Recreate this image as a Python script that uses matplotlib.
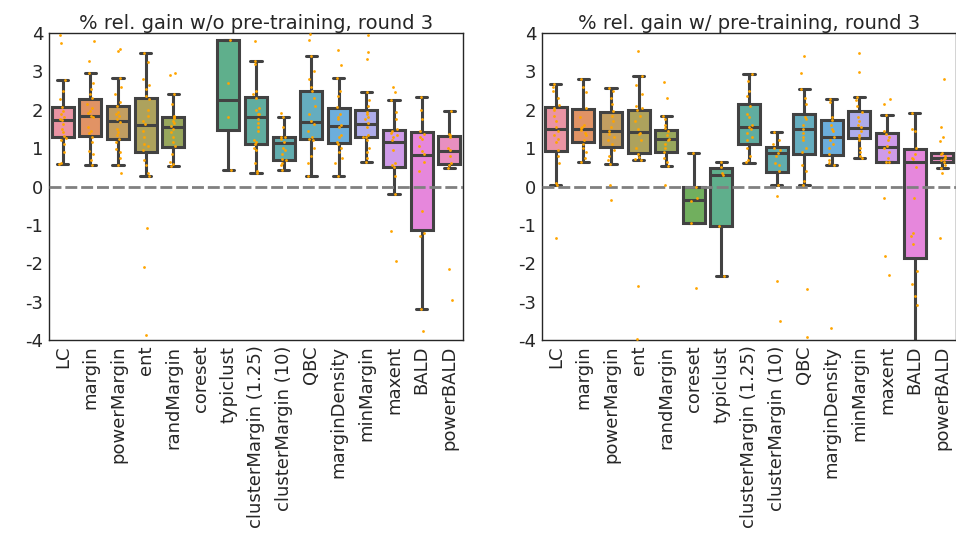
import numpy as np
import matplotlib
matplotlib.use("Agg")
import matplotlib.pyplot as plt
import seaborn as sns

categories = ["LC", "margin", "powerMargin", "ent", "randMargin", "coreset", "typiclust",
              "clusterMargin (1.25)", "clusterMargin (10)", "QBC", "marginDensity",
              "minMargin", "maxent", "BALD", "powerBALD"]
yticks = [-4, -3, -2, -1, 0, 1, 2, 3, 4]
titles = ["% rel. gain w/o pre-training, round 3", "% rel. gain w/ pre-training, round 3"]

# ---- left panel: box statistics (None = no data) ----
left_q1 = [1.29, 1.32, 1.23, 0.91, 1.03, None, 1.47, 1.10, 0.69, 1.25, 1.14, 1.28, 0.50, -1.13, 0.58]
left_med = [1.74, 1.83, 1.71, 1.61, 1.55, None, 2.26, 1.80, 1.13, 1.68, 1.58, 1.62, 1.17, 0.83, 0.93]
left_q3 = [2.07, 2.27, 2.09, 2.31, 1.80, None, 3.81, 2.34, 1.29, 2.50, 2.04, 1.99, 1.48, 1.41, 1.32]
left_wlo = [0.58, 0.56, 0.56, 0.28, 0.54, None, 0.43, 0.36, 0.42, 0.27, 0.28, 0.63, -0.20, -3.19, 0.49]
left_whi = [2.77, 2.96, 2.84, 3.48, 2.42, None, 3.81, 3.26, 1.80, 3.39, 2.82, 2.45, 2.25, 2.32, 1.98]
left_points = [
    [3.94, 3.74, 2.77, 2.5, 2.28, 2.07, 1.97, 1.9, 1.82, 1.76, 1.72, 1.62, 1.5, 1.42, 1.32, 1.27, 1.2, 1.1, 0.9, 0.62, 0.58],
    [3.79, 3.26, 2.96, 2.7, 2.55, 2.4, 2.3, 2.15, 2.05, 1.98, 1.92, 1.85, 1.8, 1.55, 1.45, 1.4, 1.3, 1.15, 0.92, 0.85, 0.7, 0.56],
    [3.58, 3.53, 2.84, 2.6, 2.4, 2.2, 2.1, 1.95, 1.9, 1.85, 1.75, 1.68, 1.5, 1.42, 1.35, 1.25, 1.15, 0.98, 0.9, 0.75, 0.56, 0.35],
    [3.48, 3.25, 2.8, 2.65, 2.55, 2.35, 2.28, 2.0, 1.85, 1.7, 1.62, 1.45, 1.3, 1.1, 1.05, 0.95, 0.7, 0.55, 0.35, 0.28, -1.07, -2.09, -3.86],
    [2.95, 2.90, 2.42, 2.15, 1.85, 1.8, 1.78, 1.7, 1.65, 1.58, 1.5, 1.42, 1.3, 1.15, 1.05, 0.85, 0.65, 0.58, 0.54],
    [],
    [3.81, 2.71, 1.81, 0.43],
    [3.78, 3.26, 3.2, 2.5, 2.4, 2.3, 2.05, 2.0, 1.9, 1.88, 1.75, 1.65, 1.55, 1.45, 1.2, 1.15, 1.1, 1.0, 0.95, 0.6, 0.4, 0.36],
    [1.92, 1.80, 1.55, 1.3, 1.28, 1.25, 1.15, 1.0, 0.95, 0.85, 0.72, 0.68, 0.6, 0.55, 0.42],
    [3.97, 3.81, 3.39, 3.0, 2.8, 2.6, 2.5, 2.3, 2.1, 1.9, 1.7, 1.62, 1.45, 1.3, 1.25, 1.2, 1.0, 0.8, 0.6, 0.27],
    [3.55, 3.17, 2.82, 2.5, 2.35, 2.08, 1.9, 1.8, 1.75, 1.6, 1.55, 1.35, 1.3, 1.15, 1.12, 1.0, 0.9, 0.75, 0.6, 0.28],
    [3.95, 3.51, 3.32, 2.45, 2.25, 2.1, 1.95, 1.9, 1.8, 1.75, 1.65, 1.55, 1.35, 1.3, 1.28, 1.2, 1.0, 0.9, 0.75, 0.63],
    [2.58, 2.46, 2.25, 1.95, 1.75, 1.5, 1.45, 1.4, 1.35, 1.3, 1.2, 0.95, 0.6, 0.55, 0.5, 0.28, -0.2, -1.15, -1.94],
    [2.32, 2.0, 1.75, 1.45, 1.38, 1.3, 1.25, 1.05, 0.92, 0.85, 0.65, 0.41, -0.65, -1.2, -1.28, -3.19, -3.76],
    [1.98, 1.38, 1.35, 1.3, 1.0, 0.95, 0.8, 0.6, 0.55, 0.49, -2.14, -2.96],
]

# ---- right panel ----
right_q1 = [0.93, 1.16, 1.04, 0.86, 0.89, -0.95, -1.02, 1.12, 0.39, 0.85, 0.82, 1.26, 0.63, -1.87, 0.64]
right_med = [1.50, 1.50, 1.44, 1.41, 1.24, -0.36, 0.30, 1.54, 0.86, 1.49, 1.28, 1.52, 1.02, 0.64, 0.73]
right_q3 = [2.08, 2.01, 1.95, 1.99, 1.48, -0.01, 0.47, 2.14, 1.03, 1.90, 1.73, 1.97, 1.39, 0.98, 0.87]
right_wlo = [0.05, 0.63, 0.59, 0.70, 0.53, -0.95, -2.34, 0.61, 0.05, 0.05, 0.56, 0.74, 0.63, -4.6, 0.47]
right_whi = [2.68, 2.79, 2.56, 2.89, 1.83, 0.88, 0.63, 2.94, 1.42, 2.53, 2.28, 2.32, 1.86, 1.91, 0.87]
right_points = [
    [2.68, 2.6, 2.5, 2.3, 2.12, 2.05, 2.0, 1.85, 1.7, 1.55, 1.45, 1.35, 1.25, 1.15, 0.95, 0.8, 0.6, 0.08, 0.05, -1.35],
    [2.79, 2.6, 2.45, 2.05, 1.8, 1.6, 1.55, 1.52, 1.48, 1.4, 1.35, 1.2, 1.1, 1.0, 0.9, 0.75, 0.63],
    [2.56, 2.5, 2.3, 2.15, 1.98, 1.85, 1.7, 1.55, 1.45, 1.38, 1.3, 1.2, 1.1, 0.95, 0.8, 0.7, 0.59, 0.05, -0.35],
    [3.52, 2.89, 2.65, 2.4, 2.1, 2.05, 2.0, 1.85, 1.7, 1.5, 1.4, 1.38, 1.2, 1.0, 0.85, 0.78, 0.72, 0.70, -2.60, -3.98],
    [2.73, 2.31, 1.83, 1.75, 1.6, 1.52, 1.45, 1.35, 1.25, 1.2, 1.1, 1.0, 0.9, 0.75, 0.65, 0.53, 0.05],
    [0.88, -0.01, -0.30, -0.39, -0.95, -2.64],
    [0.63, 0.5, 0.35, 0.30, -1.02, -2.34],
    [2.94, 2.75, 2.5, 2.35, 2.1, 1.9, 1.8, 1.6, 1.55, 1.5, 1.4, 1.3, 1.2, 1.0, 0.8, 0.7, 0.63],
    [1.42, 1.2, 1.1, 1.0, 0.95, 0.88, 0.8, 0.6, 0.55, 0.4, 0.05, -0.25, -2.46, -3.50],
    [3.40, 2.97, 2.53, 2.3, 2.15, 1.8, 1.75, 1.6, 1.5, 1.4, 1.3, 1.2, 1.0, 0.9, 0.55, 0.4, 0.15, 0.05, -2.67, -3.91],
    [2.28, 2.2, 1.8, 1.72, 1.6, 1.5, 1.45, 1.3, 1.2, 1.1, 1.0, 0.85, 0.7, 0.6, 0.56, -3.68],
    [3.48, 2.99, 2.32, 2.25, 2.1, 1.95, 1.8, 1.7, 1.6, 1.55, 1.45, 1.35, 1.3, 1.2, 1.0, 0.9, 0.8, 0.74],
    [2.28, 2.16, 1.86, 1.45, 1.38, 1.3, 1.2, 1.05, 1.0, 0.9, 0.75, 0.65, 0.63, -0.30, -1.81, -2.30],
    [1.91, 1.5, 1.45, 1.0, 0.85, 0.75, 0.72, 0.5, -0.3, -1.2, -1.3, -1.5, -2.19, -2.53, -2.86, -3.10],
    [2.80, 1.55, 1.28, 1.18, 0.87, 0.85, 0.8, 0.75, 0.72, 0.68, 0.64, 0.55, 0.47, 0.35, -1.35],
]

sns.set_style("white")
plt.rcParams["font.family"] = ["DejaVu Sans"]
plt.rcParams["text.color"] = "#262626"


def lighten(c, a=0.85):
    return tuple(a * v + (1 - a) for v in c)


palette = [lighten(sns.desaturate(c, 0.75)) for c in sns.color_palette("husl", len(categories))]
line_col = "#424242"

fig = plt.figure(figsize=(9.56, 5.48), dpi=100)
ax_l = fig.add_axes([49 / 956, 1 - 340 / 548, 414 / 956, 307 / 548])
ax_r = fig.add_axes([542 / 956, 1 - 340 / 548, 414 / 956, 307 / 548])

rng = np.random.default_rng(3)


def draw(ax, q1, med, q3, wlo, whi, pts, title):
    stats, pos, cols = [], [], []
    for i in range(len(categories)):
        if q1[i] is None:
            continue
        stats.append(dict(q1=q1[i], med=med[i], q3=q3[i], whislo=wlo[i], whishi=whi[i], fliers=[]))
        pos.append(i)
        cols.append(palette[i])
    bp = ax.bxp(stats, positions=pos, widths=0.8, patch_artist=True, showfliers=False,
                boxprops=dict(linewidth=2.2, edgecolor=line_col),
                whiskerprops=dict(linewidth=2.2, color=line_col),
                capprops=dict(linewidth=2.2, color=line_col),
                medianprops=dict(linewidth=2.2, color=line_col),
                capwidths=0.4, zorder=2)
    for patch, c in zip(bp["boxes"], cols):
        patch.set_facecolor(c)
    for i, p in enumerate(pts):
        if not p:
            continue
        xs = i + rng.uniform(-0.12, 0.12, len(p))
        ax.scatter(xs, p, s=4, color="orange", linewidths=0, zorder=4)
    ax.axhline(0, color="gray", linestyle=(0, (4.3, 1.4)), linewidth=2, zorder=3)
    ax.set_xlim(-0.5, len(categories) - 0.5)
    ax.set_ylim(-4, 4)
    ax.set_yticks(yticks)
    ax.set_yticklabels([str(t) for t in yticks])
    ax.set_xticks(range(len(categories)))
    ax.set_xticklabels(categories, rotation=90)
    ax.tick_params(axis="both", labelsize=13, length=0, pad=4, colors="#262626")
    ax.set_title(title, fontsize=14, pad=3)
    for s in ax.spines.values():
        s.set_color("#262626")
        s.set_linewidth(1.0)


draw(ax_l, left_q1, left_med, left_q3, left_wlo, left_whi, left_points, titles[0])
draw(ax_r, right_q1, right_med, right_q3, right_wlo, right_whi, right_points, titles[1])

fig.savefig("out.png", dpi=100)
